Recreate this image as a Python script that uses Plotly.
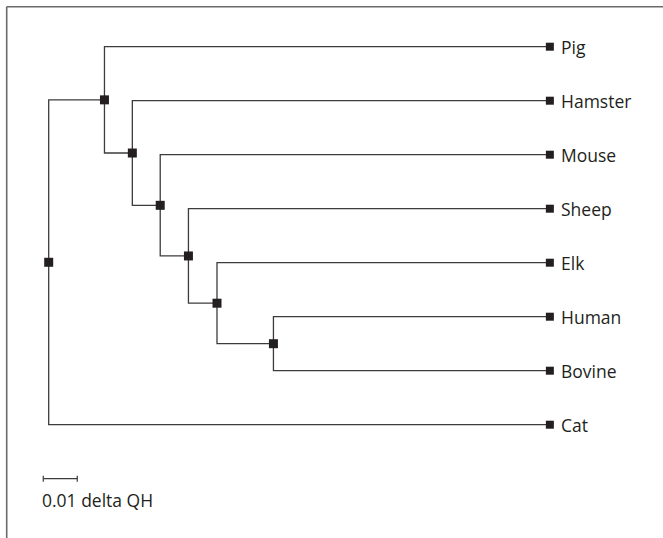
import plotly.graph_objects as go

# ---- data ----
leaves = ["Pig", "Hamster", "Mouse", "Sheep", "Elk", "Human", "Bovine", "Cat"]
leaf_depth = 0.1474  # distance (delta QH) from root to aligned leaf tips

# internal nodes: name, child1, child2, depth from root (delta QH)
node_names = ["F", "E", "D", "C", "B", "A", "root"]
node_child1 = ["Human", "Elk", "Sheep", "Mouse", "Hamster", "Pig", "A"]
node_child2 = ["Bovine", "F", "E", "D", "C", "B", "Cat"]
node_depth = [0.0661, 0.0495, 0.0411, 0.0328, 0.0246, 0.0164, 0.0]

scale_length = 0.01
scale_label = "0.01 delta QH"

# ---- layout of the tree ----
pos = {name: (leaf_depth, i) for i, name in enumerate(leaves)}
for n, c1, c2, d in zip(node_names, node_child1, node_child2, node_depth):
    pos[n] = (d, (pos[c1][1] + pos[c2][1]) / 2.0)

line_x, line_y = [], []
for n, c1, c2 in zip(node_names, node_child1, node_child2):
    nx, ny = pos[n]
    for c in (c1, c2):
        cx, cy = pos[c]
        line_x += [nx, nx, cx, None]
        line_y += [ny, cy, cy, None]

LINE = "#3c3c3c"
MARK = "#231f20"
FONT = "Open Sans"
FS = 17.5

fig = go.Figure()
fig.add_trace(go.Scatter(x=line_x, y=line_y, mode="lines",
                         line=dict(color=LINE, width=1.3), hoverinfo="skip"))
fig.add_trace(go.Scatter(x=[pos[n][0] for n in node_names],
                         y=[pos[n][1] for n in node_names], mode="markers",
                         marker=dict(symbol="square", size=9, color=MARK),
                         hoverinfo="skip"))
fig.add_trace(go.Scatter(x=[pos[l][0] for l in leaves],
                         y=[pos[l][1] for l in leaves], mode="markers",
                         marker=dict(symbol="square", size=8, color=MARK),
                         text=leaves, hoverinfo="text"))

for l in leaves:
    fig.add_annotation(x=pos[l][0], y=pos[l][1], text=l, showarrow=False,
                       xanchor="left", yanchor="middle", xshift=9,
                       font=dict(family=FONT, size=FS, color="#231f20"))

# scale bar
sb_x0 = -0.0016
sb_y = 8.0
fig.add_trace(go.Scatter(x=[sb_x0, sb_x0 + scale_length, None, sb_x0, sb_x0, None,
                            sb_x0 + scale_length, sb_x0 + scale_length],
                         y=[sb_y, sb_y, None, sb_y - 0.055, sb_y + 0.055, None,
                            sb_y - 0.055, sb_y + 0.055],
                         mode="lines", line=dict(color=LINE, width=1.2),
                         hoverinfo="skip"))
fig.add_annotation(x=sb_x0, y=sb_y + 0.4, text=scale_label, showarrow=False,
                   xanchor="left", yanchor="middle", xshift=-3,
                   font=dict(family=FONT, size=FS, color="#231f20"))

# frame (top and left edges)
bx = 6.7 / 663
by = 1 - 6.7 / 538
fig.add_shape(type="line", xref="paper", yref="paper", x0=bx, x1=1.01, y0=by, y1=by,
              line=dict(color="#6a6a6a", width=1.6))
fig.add_shape(type="line", xref="paper", yref="paper", x0=bx, x1=bx, y0=by, y1=-0.01,
              line=dict(color="#6a6a6a", width=1.6))

px_per_unit_x = 3400.0
x0_px = 48.7
px_per_unit_y = 54.0
y0_px = 46.7
fig.update_layout(
    width=663, height=538,
    margin=dict(l=0, r=0, t=0, b=0),
    paper_bgcolor="white", plot_bgcolor="white",
    showlegend=False,
    xaxis=dict(range=[-x0_px / px_per_unit_x, (663 - x0_px) / px_per_unit_x],
               visible=False, fixedrange=True),
    yaxis=dict(range=[(538 - y0_px) / px_per_unit_y, -y0_px / px_per_unit_y],
               visible=False, fixedrange=True),
)

fig.write_html("out.html", config={"displayModeBar": False},
               post_script="document.body.style.margin='0';")
